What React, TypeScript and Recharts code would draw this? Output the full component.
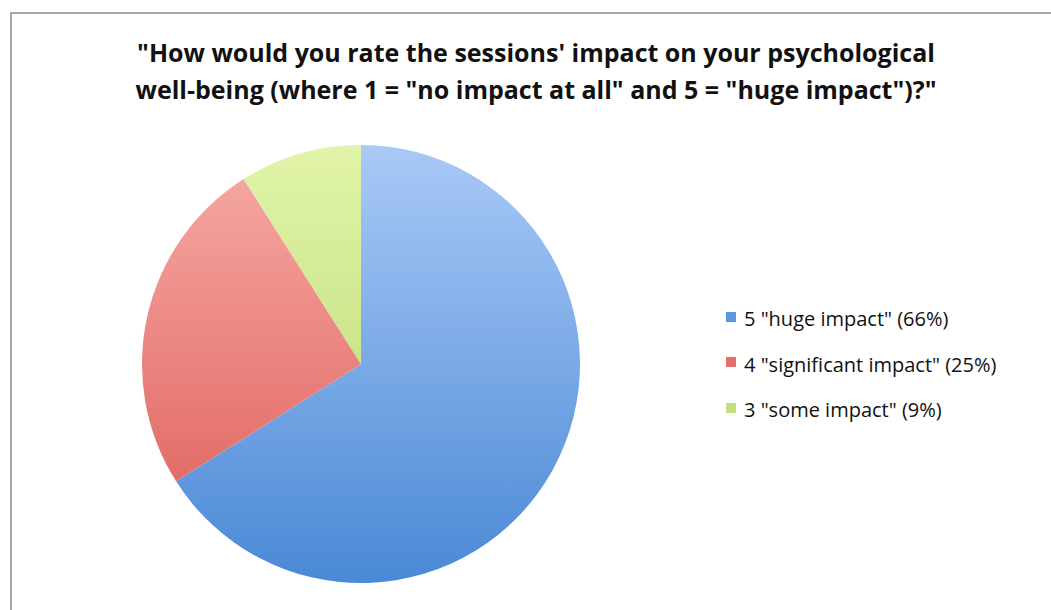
import { PieChart, Pie, Cell, Legend } from 'recharts';

const categories = ['5 "huge impact" (66%)', '4 "significant impact" (25%)', '3 "some impact" (9%)'];
const shares = [66, 25, 9];
const titleLines = [
  '"How would you rate the sessions\' impact on your psychological',
  'well-being (where 1 = "no impact at all" and 5 = "huge impact")?"',
];

const colors = [
  { id: 'gBlue', top: '#a9c9f6', bottom: '#4a89d6', swatch: '#5b97de' },
  { id: 'gRed', top: '#f7aba8', bottom: '#dd5a54', swatch: '#e56f6a' },
  { id: 'gGreen', top: '#e1f4aa', bottom: '#b6d468', swatch: '#c4e07c' },
];

const font = '"Open Sans", sans-serif';

export default function App() {
  const data = categories.map((name, i) => ({ name, value: shares[i] }));

  return (
    <div style={{ position: 'absolute', left: 0, top: 0, width: 1051, height: 610, background: '#fff', overflow: 'hidden' }}>
      <div
        style={{
          position: 'absolute',
          left: 10,
          top: 12,
          width: 1060,
          height: 640,
          border: '2px solid #a8a8a8',
          boxSizing: 'border-box',
        }}
      />
      <div
        style={{
          position: 'absolute',
          left: 0,
          top: 34,
          width: 1072,
          textAlign: 'center',
          fontFamily: font,
          fontWeight: 700,
          fontSize: 25,
          lineHeight: '37px',
          color: '#111',
          whiteSpace: 'nowrap',
        }}
      >
        {titleLines.map((t) => (
          <div key={t}>{t}</div>
        ))}
      </div>
      <PieChart
        width={1051}
        height={610}
        margin={{ top: 0, right: 0, bottom: 0, left: 0 }}
        style={{ position: 'absolute', left: 0, top: 0 }}
      >
        <defs>
          {colors.map((c) => (
            <linearGradient key={c.id} id={c.id} gradientUnits="userSpaceOnUse" x1="0" y1="145" x2="0" y2="583">
              <stop offset="0%" stopColor={c.top} />
              <stop offset="100%" stopColor={c.bottom} />
            </linearGradient>
          ))}
        </defs>
        <Pie
          data={data}
          dataKey="value"
          nameKey="name"
          cx={361}
          cy={364}
          outerRadius={219}
          startAngle={90}
          endAngle={-270}
          stroke="none"
          isAnimationActive={false}
        >
          {data.map((d, i) => (
            <Cell key={d.name} fill={`url(#${colors[i].id})`} />
          ))}
        </Pie>
        <Legend
          layout="vertical"
          wrapperStyle={{ position: 'absolute', left: 726, top: 296, width: 320 }}
          content={() => (
            <div style={{ fontFamily: font, fontSize: 20, color: '#111' }}>
              {categories.map((name, i) => (
                <div key={name} style={{ display: 'flex', alignItems: 'center', height: 45.5, whiteSpace: 'nowrap' }}>
                  <span
                    style={{
                      display: 'inline-block',
                      width: 10,
                      height: 10,
                      background: colors[i].swatch,
                      marginRight: 8,
                      marginTop: -4,
                    }}
                  />
                  {name}
                </div>
              ))}
            </div>
          )}
        />
      </PieChart>
    </div>
  );
}
